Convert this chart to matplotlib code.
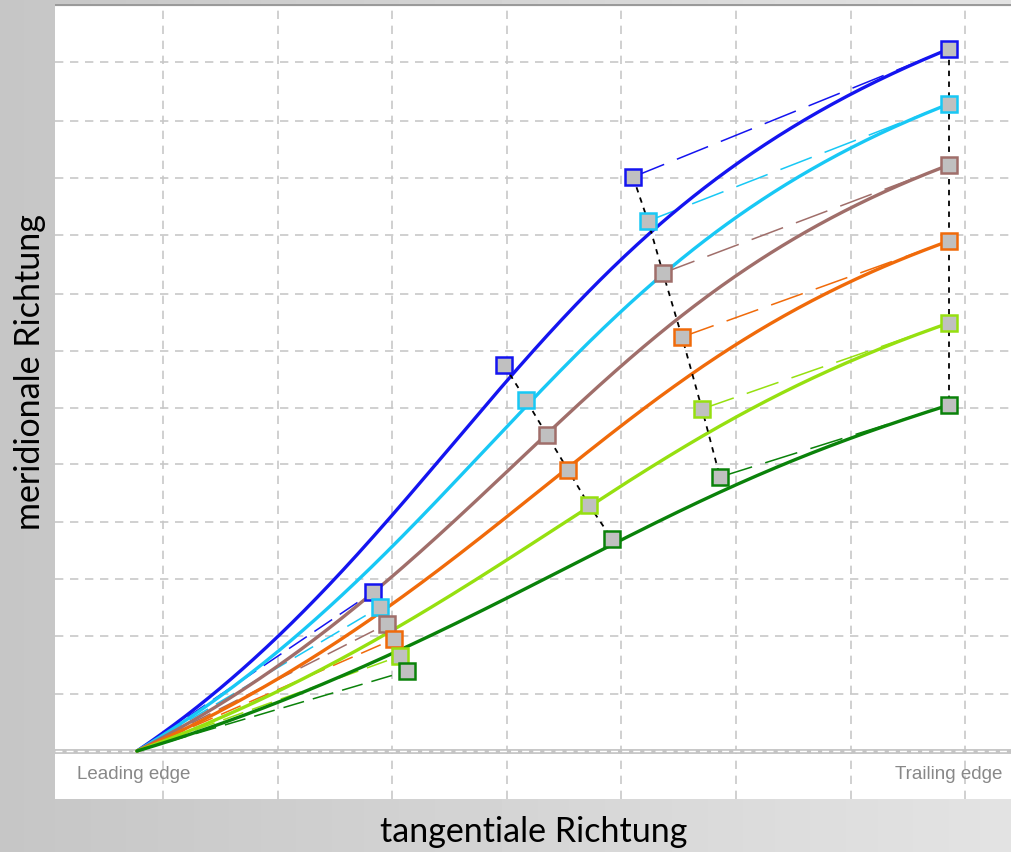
import numpy as np
import matplotlib.pyplot as plt
from matplotlib.bezier import BezierSegment

# control points per curve (screen units, y grows downwards): P0, P1, M, P2, P3
names = ['blue', 'cyan', 'brown', 'orange', 'lightgreen', 'darkgreen']
colors = ['#1414f0', '#18c8f5', '#a06e6a', '#f06a0a', '#96e010', '#0a820a']
p0 = (137, 752)
p1 = [(373, 593), (380, 608), (387, 625), (394, 640), (400, 657), (407, 672)]
pm = [(504, 366), (526, 401), (547, 436), (568, 471), (589, 506), (612, 540)]
p2 = [(633, 178), (648, 222), (663, 274), (682, 338), (702, 410), (720, 478)]
p3 = [(949, 50), (949, 105), (949, 166), (949, 242), (949, 324), (949, 406)]

xgrid = [163, 278, 392, 507, 621, 736, 851, 965]
ygrid = [6, 63, 122, 179, 236, 295, 352, 409, 465, 523, 580, 637, 695]
baseline = 752

W, H = 1012, 853
fig = plt.figure(figsize=(W / 100, H / 100), dpi=100)

# gray gradient background
bg = fig.add_axes([0, 0, 1, 1], zorder=0)
grad = np.linspace(0.775, 0.89, 256).reshape(1, -1)
bg.imshow(grad, cmap='gray', vmin=0, vmax=1, aspect='auto', extent=[0, 1, 0, 1])
bg.set_axis_off()

ax = fig.add_axes([55 / W, 1 - 800 / H, (W - 55) / W, (800 - 5) / H], zorder=1)
ax.set_xlim(55, W)
ax.set_ylim(800, 5)
ax.set_facecolor('white')
for s in ax.spines.values():
    s.set_visible(False)
ax.set_xticks([])
ax.set_yticks([])

gkw = dict(color='#c8c8c8', lw=1.2, dashes=(5, 4), zorder=1)
for x in xgrid:
    ax.axvline(x, **gkw)
for y in ygrid:
    ax.axhline(y, **gkw)
ax.axhline(baseline, color='#c4c4c4', lw=3.5, zorder=1)
ax.axhline(baseline, color='white', lw=1, dashes=(5, 3), zorder=1)
ax.axhline(5, color='#9a9a9a', lw=3, zorder=6)

t = np.linspace(0, 1, 300)
for i, c in enumerate(colors):
    ctrl = np.array([p0, p1[i], pm[i], p2[i], p3[i]], dtype=float)
    # tangent construction lines
    ax.plot([p0[0], p1[i][0]], [p0[1], p1[i][1]], color=c, lw=1.1, dashes=(14, 6), zorder=2)
    ax.plot([p2[i][0], p3[i][0]], [p2[i][1], p3[i][1]], color=c, lw=1.1, dashes=(22, 9), zorder=2)
    curve = BezierSegment(ctrl)(t)
    ax.plot(curve[:, 0], curve[:, 1], color=c, lw=2.4, zorder=3, solid_capstyle='round')

# black dotted connectors
for pts in (p1, pm, p2, p3):
    xs, ys = zip(*pts)
    ax.plot(xs, ys, color='black', lw=1.3, dashes=(3, 3), zorder=4)

for i, c in enumerate(colors):
    xs, ys = zip(p1[i], pm[i], p2[i], p3[i])
    ax.plot(xs, ys, ls='none', marker='s', ms=11, mfc='#c0c0c0', mec=c, mew=1.8, zorder=5)

ax.text(77, 775, 'Leading edge', color='#888888', fontsize=13.5, family='Liberation Sans',
        ha='left', va='center', zorder=6)
ax.text(1002, 775, 'Trailing edge', color='#888888', fontsize=13.5, family='Liberation Sans',
        ha='right', va='center', zorder=6)

fig.text(30 / W, 1 - 372 / H, 'meridionale Richtung', rotation=90, fontsize=24.5,
         family='Lato', ha='center', va='center', zorder=3)
fig.text(534 / W, 1 - 832 / H, 'tangentiale Richtung', fontsize=24.5,
         family='Lato', ha='center', va='center', zorder=3)

fig.savefig('out.png', dpi=100)
